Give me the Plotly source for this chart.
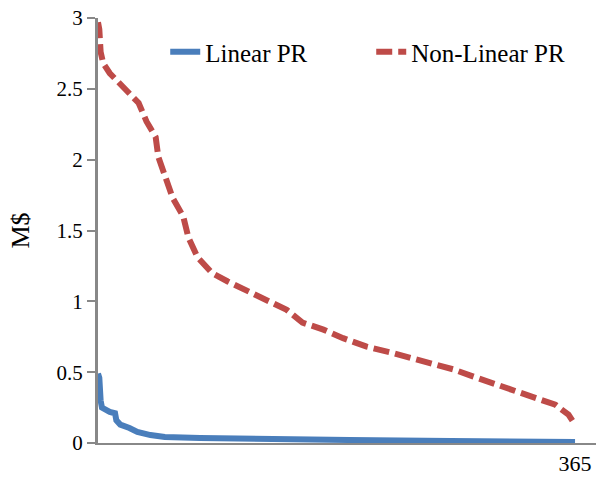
import plotly.graph_objects as go

# Non-Linear PR (red dashed) — day, value in M$
nl_days = [1, 2, 3, 5, 10, 22, 32, 38, 45, 47, 53, 58, 66, 70, 77, 88, 100, 116,
           130, 145, 157, 173, 188, 206, 224, 241, 257, 272, 287, 302, 318, 335,
           350, 360, 363, 365]
nl_vals = [2.97, 2.92, 2.76, 2.68, 2.61, 2.49, 2.40, 2.27, 2.16, 2.02, 1.87, 1.73,
           1.60, 1.45, 1.31, 1.20, 1.14, 1.07, 1.00, 0.94, 0.85, 0.80, 0.74, 0.68,
           0.64, 0.60, 0.56, 0.52, 0.47, 0.42, 0.37, 0.32, 0.27, 0.20, 0.15, 0.13]

# Linear PR (blue solid)
l_days = [1, 2, 3, 4, 10, 14, 15, 18, 25, 31, 41, 52, 79, 117, 193, 270, 365]
l_vals = [0.49, 0.46, 0.30, 0.25, 0.22, 0.21, 0.16, 0.13, 0.106, 0.078, 0.056,
          0.042, 0.035, 0.028, 0.021, 0.014, 0.007]

y_ticks = [0, 0.5, 1, 1.5, 2, 2.5, 3]
y_tick_text = ["0", "0.5", "1", "1.5", "2", "2.5", "3"]
x_ticks = [365]
x_tick_text = ["365"]

FONT = "Liberation Serif"

fig = go.Figure()
fig.add_trace(go.Scatter(x=l_days, y=l_vals, mode="lines", name="Linear PR",
                         line=dict(color="#4A7EBB", width=6)))
fig.add_trace(go.Scatter(x=nl_days, y=nl_vals, mode="lines", name="Non-Linear PR",
                         line=dict(color="#BE4B48", width=6, dash="16px,6px")))

fig.update_layout(
    width=596, height=484,
    margin=dict(l=98, r=0, t=18, b=41),
    paper_bgcolor="white", plot_bgcolor="white",
    font=dict(family=FONT, size=21, color="black"),
    showlegend=True,
    legend=dict(orientation="h", x=0.135, y=0.92, xanchor="left", yanchor="middle",
                font=dict(family=FONT, size=25, color="black"),
                entrywidth=161, entrywidthmode="pixels",
                bgcolor="rgba(0,0,0,0)", itemwidth=30),
    xaxis=dict(range=[1, 381], showgrid=False, zeroline=False,
               showline=True, linecolor="#888888", linewidth=2,
               tickvals=x_ticks, ticktext=x_tick_text, ticks="",
               tickfont=dict(family=FONT, size=22, color="black")),
    yaxis=dict(range=[0, 3], showgrid=False, zeroline=False,
               showline=True, linecolor="#888888", linewidth=3,
               tickvals=y_ticks, ticktext=y_tick_text, ticks="outside",
               ticklen=8, tickwidth=2, tickcolor="#888888",
               tickfont=dict(family=FONT, size=21, color="black"),
               title=dict(text="M$", font=dict(family=FONT, size=26, color="black"),
                          standoff=20)),
)

fig.write_html("out.html")
